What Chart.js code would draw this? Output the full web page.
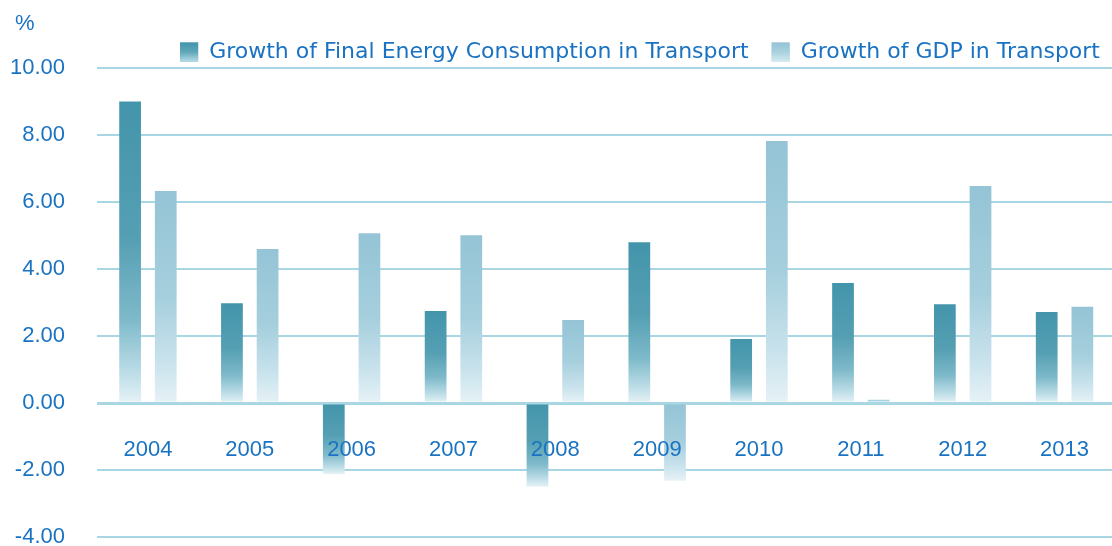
<!DOCTYPE html>
<html>
<head>
<meta charset="utf-8">
<script src="https://cdn.jsdelivr.net/npm/chart.js@4.4.1/dist/chart.umd.min.js"></script>
<style>
  html, body { margin: 0; padding: 0; background: #ffffff; overflow: hidden; }
  #wrap { position: absolute; left: 0; top: 0; width: 1123px; height: 546px; }
</style>
</head>
<body>
<div id="wrap"><canvas id="c" width="1123" height="546"></canvas></div>
<script>
const years = ['2004','2005','2006','2007','2008','2009','2010','2011','2012','2013'];
const energyGrowth = [9.0, 2.98, -2.12, 2.75, -2.5, 4.8, 1.91, 3.58, 2.95, 2.72];
const gdpGrowth = [6.33, 4.6, 5.07, 5.01, 2.48, -2.32, 7.82, 0.1, 6.48, 2.87];
const seriesNames = ['Growth of Final Energy Consumption in Transport', 'Growth of GDP in Transport'];
const yTicks = { min: -4, max: 10, step: 2 };
const unitLabel = '%';

const TEXT = '#1a73c2';
const GRID = '#a8d7e3';
const LEG_BOX_W = 18, LEG_BOX_H = 19, LEG_FONT = 22;

function barGradient(stops, fallback) {
  return function (ctx) {
    const chart = ctx.chart;
    if (!chart.chartArea || ctx.type !== 'data') return fallback;
    const y = chart.scales.y;
    const v = ctx.raw;
    const top = y.getPixelForValue(Math.max(v, 0));
    const bot = y.getPixelForValue(Math.min(v, 0));
    if (bot - top < 4) return fallback;
    const g = chart.ctx.createLinearGradient(0, top, 0, bot);
    stops.forEach(s => g.addColorStop(s[0], s[1]));
    return g;
  };
}

const darkStops = [[0, '#4395ab'], [0.45, '#559fb3'], [0.72, '#7db9c9'], [0.9, '#bcdde7'], [1, '#e6f2f6']];
const lightStops = [[0, '#94c4d6'], [0.5, '#a6cfdd'], [0.8, '#c8e2ec'], [1, '#e6f2f6']];
const legendStops = [
  [[0, '#4395ab'], [0.5, '#5ea7b9'], [1, '#b7dbe6']],
  [[0, '#94c4d6'], [0.5, '#a9d1de'], [1, '#d3e9f0']]
];

const extrasPlugin = {
  id: 'extras',
  beforeLayout(chart) {
    const lg = chart.legend;
    if (lg && !lg._patched) {
      const orig = lg.fit;
      lg.fit = function () { orig.call(this); this.height -= 5; };
      lg._patched = true;
    }
  },
  afterDraw(chart) {
    const c = chart.ctx;
    c.save();
    c.fillStyle = TEXT;
    c.font = '22px "Liberation Sans", Arial, sans-serif';
    c.textAlign = 'left';
    c.textBaseline = 'middle';
    c.fillText(unitLabel, 15, 24);
    const lg = chart.legend;
    if (lg && lg.legendHitBoxes) {
      lg.legendHitBoxes.forEach((hb, i) => {
        const top = hb.top + Math.max((LEG_FONT - LEG_BOX_H) / 2, 0);
        const g = c.createLinearGradient(0, top, 0, top + LEG_BOX_H);
        legendStops[i].forEach(s => g.addColorStop(s[0], s[1]));
        c.fillStyle = g;
        c.fillRect(hb.left, top, LEG_BOX_W, LEG_BOX_H);
      });
    }
    c.restore();
  }
};

new Chart(document.getElementById('c'), {
  type: 'bar',
  data: {
    labels: years,
    datasets: [
      {
        label: seriesNames[0],
        data: energyGrowth,
        backgroundColor: barGradient(darkStops, '#4a9aaf'),
        borderWidth: 0,
        categoryPercentage: 0.70,
        barPercentage: 0.61
      },
      {
        label: seriesNames[1],
        data: gdpGrowth,
        backgroundColor: barGradient(lightStops, '#a6d3df'),
        borderWidth: 0,
        categoryPercentage: 0.70,
        barPercentage: 0.61
      }
    ]
  },
  options: {
    responsive: false,
    animation: false,
    layout: { padding: { top: 18, bottom: 0, left: 0, right: 0 } },
    plugins: {
      tooltip: { enabled: false },
      legend: {
        position: 'top',
        align: 'end',
        labels: {
          color: TEXT,
          font: { family: '"DejaVu Sans", sans-serif', size: LEG_FONT },
          boxWidth: LEG_BOX_W,
          boxHeight: LEG_BOX_H,
          padding: 23,
          generateLabels(chart) {
            const cols = ['#5aa3b6', '#a9d1de'];
            return chart.data.datasets.map((d, i) => ({
              text: d.label,
              fillStyle: cols[i],
              strokeStyle: 'rgba(0,0,0,0)',
              lineWidth: 0,
              fontColor: TEXT,
              hidden: false,
              datasetIndex: i
            }));
          }
        }
      }
    },
    scales: {
      x: {
        position: { y: 0 },
        afterFit(scale) { scale.height = 0; },
        grid: { display: false, drawTicks: false },
        border: { display: false },
        ticks: {
          z: 1,
          color: TEXT,
          font: { family: '"Liberation Sans", Arial, sans-serif', size: 22 },
          padding: 34
        }
      },
      y: {
        min: yTicks.min,
        max: yTicks.max,
        afterFit(scale) {
          scale.width = 97;
          scale.paddingTop = 0;
          scale.paddingBottom = 9;
        },
        ticks: {
          stepSize: yTicks.step,
          color: TEXT,
          font: { family: '"Liberation Sans", Arial, sans-serif', size: 22 },
          padding: 32,
          callback: v => Number(v).toFixed(2)
        },
        grid: {
          color: GRID,
          lineWidth: ctx => (ctx.tick && ctx.tick.value === 0 ? 3 : 2),
          drawTicks: false
        },
        border: { display: false }
      }
    }
  },
  plugins: [extrasPlugin]
});
</script>
</body>
</html>
